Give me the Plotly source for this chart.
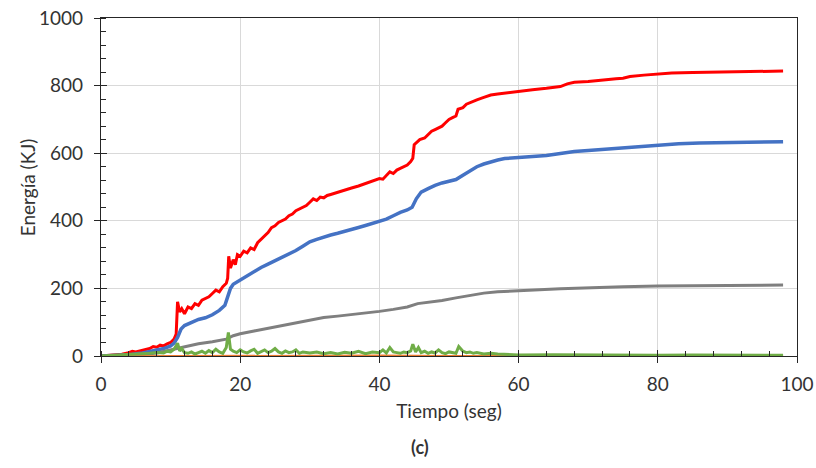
import plotly.graph_objects as go

# ---------------- data ----------------
red_t = [0, 1, 2, 3, 4, 4.5, 5, 6, 7, 7.5, 8, 8.5, 9, 9.5, 10, 10.5, 10.8, 11, 11.3, 11.6,
         12, 12.5, 13, 13.5, 14, 14.5, 15, 15.5, 16, 16.5, 17, 17.5, 18, 18.2, 18.35, 18.6, 19, 19.3, 19.6, 20,
         20.5, 21, 21.5, 22, 22.5, 23, 23.5, 24, 24.5, 25, 25.5, 26, 26.5, 27, 27.5, 28, 28.5, 29, 29.5, 30,
         30.5, 31, 31.5, 32, 32.5, 33, 34, 35, 36, 37, 38, 39, 40, 40.5, 41, 41.5, 42, 42.5, 43, 43.5,
         44, 44.5, 44.8, 45, 45.3, 45.8, 46.5, 47, 47.5, 48, 48.5, 49, 49.5, 50, 50.5, 51, 51.3, 52, 52.5, 53,
         53.5, 54, 55, 56, 57, 58, 59, 60, 62, 64, 65, 66, 67, 68, 70, 72, 74, 75, 76, 78,
         80, 82, 85, 88, 90, 94, 98]
red_e = [0, 1, 3, 5, 10, 14, 12, 18, 22, 28, 26, 32, 30, 36, 40, 50, 65, 160, 130, 140,
         125, 145, 140, 155, 150, 165, 170, 175, 185, 195, 190, 205, 215, 230, 295, 260, 285, 270, 300, 295,
         310, 305, 320, 315, 335, 345, 355, 365, 380, 385, 395, 400, 405, 415, 420, 430, 435, 440, 445, 455,
         465, 460, 470, 468, 475, 478, 485, 490, 497, 503, 510, 518, 525, 523, 535, 545, 540, 550, 555, 560,
         565, 575, 585, 625, 630, 640, 645, 655, 665, 670, 675, 680, 690, 700, 705, 710, 730, 735, 745, 750,
         755, 758, 765, 772, 775, 778, 781, 784, 788, 792, 795, 797, 805, 810, 812, 815, 820, 822, 827, 831,
         835, 837, 839, 840, 841, 842, 843]

blue_t = [0, 2, 4, 6, 8, 9, 10, 10.5, 11, 11.5, 12, 13, 14, 15, 16, 17, 17.8, 18.2, 18.6, 19,
          20, 21, 22, 23, 24, 25, 26, 27, 28, 29, 30, 31, 32, 33, 34, 35, 36, 37, 38, 39,
          40, 41, 42, 43, 44, 44.7, 45.3, 46, 47, 48, 49, 50, 51, 52, 53, 54, 55, 56, 57, 58,
          60, 62, 64, 66, 68, 70, 72, 74, 76, 78, 80, 83, 86, 90, 94, 98]
blue_e = [0, 1, 4, 9, 17, 22, 30, 38, 55, 80, 90, 100, 108, 113, 122, 135, 150, 175, 200, 212,
          225, 238, 250, 262, 272, 282, 292, 302, 312, 325, 338, 345, 352, 358, 363, 368, 375, 380, 386, 392,
          397, 405, 415, 425, 432, 440, 465, 485, 495, 505, 512, 518, 522, 535, 548, 560, 568, 575, 580, 584,
          588, 590, 593, 600, 605, 608, 611, 614, 617, 622, 625, 628, 630, 632, 633, 634]

gray_t = [0, 4, 6, 8, 10, 12, 14, 16, 18, 19, 20, 22, 24, 26, 28, 30, 32, 34, 36, 38,
          40, 42, 44, 45.5, 47, 49, 51, 53, 55, 57, 60, 63, 66, 70, 75, 80, 85, 90, 98]
gray_e = [0, 2, 4, 9, 18, 28, 36, 42, 50, 60, 66, 74, 82, 90, 100, 108, 114, 118, 122, 126,
          132, 138, 145, 155, 158, 164, 172, 180, 186, 190, 194, 196, 199, 202, 205, 207, 208, 209, 210]

green_t = [0, 1, 2, 3, 4, 5, 6, 7, 8, 9,
           9.5, 10, 10.5, 11, 11.3, 11.6, 12, 12.5, 13, 13.5,
           14, 14.5, 15, 15.5, 16, 16.5, 17, 17.5, 18, 18.3,
           18.6, 19, 19.5, 20, 20.5, 21, 21.5, 22, 22.5, 23,
           23.5, 24, 24.5, 25, 25.5, 26, 26.5, 27, 27.5, 28,
           28.5, 29, 29.5, 30, 31, 32, 33, 34, 35, 36,
           37, 38, 39, 40, 40.5, 41, 41.5, 42, 42.5, 43,
           43.5, 44, 44.5, 44.8, 45.2, 45.6, 46, 46.5, 47, 47.5,
           48, 48.5, 49, 49.5, 50, 50.5, 51, 51.4, 52, 52.5,
           53, 53.5, 54, 55, 56, 57, 58, 59, 60, 65,
           70, 75, 80, 85, 90, 95, 98]
green_e = [0, 1, 2, 3, 5, 4, 6, 8, 10, 9,
           14, 12, 20, 38, 15, 22, 10, 8, 12, 6,
           10, 14, 8, 16, 10, 20, 12, 8, 25, 70,
           20, 14, 10, 18, 12, 9, 15, 20, 8, 12,
           18, 10, 14, 22, 12, 8, 15, 10, 12, 18,
           8, 12, 10, 9, 12, 7, 10, 6, 11, 8,
           14, 7, 12, 10, 18, 9, 25, 12, 10, 8,
           12, 10, 15, 35, 12, 25, 10, 14, 8, 12,
           9, 18, 10, 7, 12, 10, 8, 28, 14, 10,
           12, 8, 10, 6, 8, 6, 5, 4, 3, 4,
           3, 2, 2, 3, 2, 2, 2]

orange_t = [0, 10, 20, 30, 40, 50, 60, 70, 80, 90, 98]
orange_e = [0, 1, 2, 1, 2, 1, 1, 0, 0, 0, 0]

x_ticks = [0, 20, 40, 60, 80, 100]
y_ticks = [0, 200, 400, 600, 800, 1000]

x_title = "Tiempo (seg)"
y_title = "Energía (KJ)"
caption = "(c)"

# ---------------- figure ----------------
FONT = "Lato, 'Open Sans', sans-serif"
TXT = "#333333"
AX = "#262626"

fig = go.Figure()
fig.add_trace(go.Scatter(x=red_t, y=red_e, mode="lines",
                         line=dict(color="#ff0000", width=3), showlegend=False))
fig.add_trace(go.Scatter(x=blue_t, y=blue_e, mode="lines",
                         line=dict(color="#4472c4", width=3.5), showlegend=False))
fig.add_trace(go.Scatter(x=gray_t, y=gray_e, mode="lines",
                         line=dict(color="#7f7f7f", width=3), showlegend=False))
fig.add_trace(go.Scatter(x=orange_t, y=orange_e, mode="lines", xaxis="x2", yaxis="y2",
                         line=dict(color="#ed7d31", width=1.5), showlegend=False))
fig.add_trace(go.Scatter(x=green_t, y=green_e, mode="lines", xaxis="x2", yaxis="y2",
                         line=dict(color="#70ad47", width=3), showlegend=False))

fig.update_layout(
    width=816, height=468,
    margin=dict(l=101, r=19, t=18, b=112, autoexpand=False),
    paper_bgcolor="white", plot_bgcolor="white",
    font=dict(family=FONT, size=19, color=TXT),
    xaxis=dict(range=[0, 100], tickvals=x_ticks, showgrid=True, gridcolor="#d9d9d9", gridwidth=1,
               zeroline=False, showline=True, linecolor=AX, linewidth=1.3, mirror=True,
               ticks="outside", ticklen=6, tickcolor=AX, tickwidth=1.3, automargin=False,
               ticklabelstandoff=5, ticklabeloverflow="allow",
               minor=dict(ticks="inside", dtick=4, ticklen=5, tickcolor=AX, tickwidth=1.3, showgrid=False),
               tickfont=dict(size=19, color=TXT),
               title=dict(text=x_title, font=dict(size=19, color=TXT), standoff=10)),
    yaxis=dict(range=[0, 1000], tickvals=y_ticks, showgrid=True, gridcolor="#d9d9d9", gridwidth=1,
               zeroline=False, showline=True, linecolor=AX, linewidth=1.3, mirror=True,
               ticks="outside", ticklen=6, tickcolor=AX, tickwidth=1.3, automargin=False,
               ticklabelstandoff=7, ticklabeloverflow="allow",
               minor=dict(ticks="inside", dtick=40, ticklen=5, tickcolor=AX, tickwidth=1.3, showgrid=False),
               tickfont=dict(size=19, color=TXT)),
    xaxis2=dict(overlaying="x", matches="x", range=[0, 100], tickvals=x_ticks, showgrid=False,
                zeroline=False, showline=False, ticks="inside", ticklen=6, tickcolor=AX, tickwidth=1.3,
                showticklabels=False, automargin=False),
    yaxis2=dict(overlaying="y", matches="y", range=[0, 1000], tickvals=y_ticks, showgrid=False,
                zeroline=False, showline=False, ticks="inside", ticklen=6, tickcolor=AX, tickwidth=1.3,
                showticklabels=False, automargin=False),
)

# y-axis title placed as a rotated annotation left of the tick labels
fig.add_annotation(text=y_title, xref="paper", yref="paper",
                   x=-0.106, y=0.5, xanchor="center", yanchor="middle", textangle=-90,
                   showarrow=False, font=dict(family=FONT, size=19, color=TXT))

fig.add_annotation(text="<b>" + caption + "</b>", xref="paper", yref="paper",
                   x=0.458, y=-0.268, xanchor="center", yanchor="middle",
                   showarrow=False, font=dict(family=FONT, size=18, color=TXT))

fig.write_html("out.html", config={"displayModeBar": False},
               post_script="document.body.style.margin='0';")
